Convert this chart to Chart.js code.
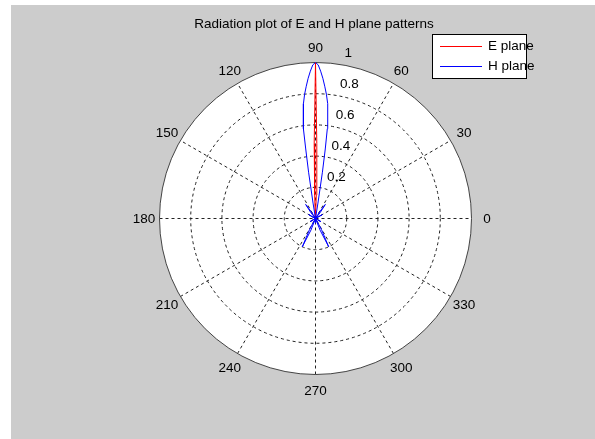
<!DOCTYPE html>
<html lang="en">
<head>
    <meta charset="UTF-8">
    <title>Radiation plot of E and H plane patterns</title>
    <script src="https://cdn.jsdelivr.net/npm/chart.js"></script>
    <style>
        /* white page, the gray figure area is painted by the plugin */
        body { margin: 0; background: #fff; }
        canvas { display: block; }
    </style>
</head>
<body>
    <canvas id="polarChart" width="595" height="439"></canvas>
    <script>
        // angles in degrees, values are normalised field strength
        var eAngles = [0, 85, 86, 87, 88, 89, 90, 91, 92, 93, 94, 95, 360];
        var eValues = [0, 0, 0.02, 0.05, 0.15, 0.48, 1, 0.48, 0.15, 0.05, 0.02, 0, 0];

        var hAngles = [0, 20, 26, 30, 34, 40, 50, 52, 55, 58, 61, 75,
                       80.5, 81, 81.5, 82, 82.5, 83, 84, 85, 86, 87, 88, 89, 90,
                       91, 92, 93, 94, 95, 96, 97, 97.5, 98, 98.5, 99, 99.5,
                       105, 119, 122, 125, 128, 130, 146, 150, 154, 160,
                       205, 210, 215, 240, 241.5, 245, 248.5, 250, 266, 270, 274,
                       290, 291.5, 295, 298.5, 300, 325, 330, 335, 360];
        var hValues = [0, 0, 0.02, 0.05, 0.02, 0, 0, 0.05, 0.11, 0.05, 0, 0,
                       0, 0.1, 0.3, 0.45, 0.58, 0.65, 0.74, 0.8, 0.85, 0.9, 0.945, 0.985, 1,
                       0.985, 0.945, 0.9, 0.85, 0.8, 0.74, 0.65, 0.58, 0.45, 0.3, 0.1, 0,
                       0, 0, 0.05, 0.11, 0.05, 0, 0, 0.05, 0.02, 0,
                       0, 0.04, 0, 0, 0.08, 0.2, 0.08, 0, 0, 0.03, 0,
                       0, 0.08, 0.2, 0.08, 0, 0, 0.04, 0, 0];

        var rTicks = [0.2, 0.4, 0.6, 0.8, 1];
        var angleTicks = [0, 30, 60, 90, 120, 150, 180, 210, 240, 270, 300, 330];
        var seriesNames = ['E plane', 'H plane'];
        var seriesColors = ['#ff0000', '#0000ff'];

        // polar (deg, r) -> cartesian data point
        function toXY(angles, values) {
            return angles.map(function (a, i) {
                var t = a * Math.PI / 180;
                return { x: values[i] * Math.cos(t), y: values[i] * Math.sin(t) };
            });
        }

        var font = '13.5px "Liberation Sans", Arial, sans-serif';

        // background, polar grid, labels, title and legend (MATLAB look)
        var polarFrame = {
            id: 'polarFrame',
            beforeDatasetsDraw: function (chart) {
                var ctx = chart.ctx;
                var sx = chart.scales.x, sy = chart.scales.y;
                var cx = sx.getPixelForValue(0), cy = sy.getPixelForValue(0);
                var R = sx.getPixelForValue(1) - cx;
                ctx.save();
                ctx.fillStyle = '#ffffff';
                ctx.fillRect(0, 0, chart.width, chart.height);
                ctx.fillStyle = '#cccccc';
                ctx.fillRect(11, 5, chart.width - 11, chart.height - 5);

                // white disc
                ctx.fillStyle = '#ffffff';
                ctx.beginPath();
                ctx.arc(cx, cy, R, 0, 2 * Math.PI);
                ctx.fill();

                // dashed rings and spokes
                ctx.strokeStyle = '#222222';
                ctx.lineWidth = 1;
                ctx.setLineDash([3, 3]);
                rTicks.forEach(function (r) {
                    if (r >= 1) return;
                    ctx.beginPath();
                    ctx.arc(cx, cy, r * R, 0, 2 * Math.PI);
                    ctx.stroke();
                });
                for (var a = 0; a < 180; a += 30) {
                    var t = a * Math.PI / 180;
                    ctx.beginPath();
                    ctx.moveTo(sx.getPixelForValue(-Math.cos(t)), sy.getPixelForValue(-Math.sin(t)));
                    ctx.lineTo(sx.getPixelForValue(Math.cos(t)), sy.getPixelForValue(Math.sin(t)));
                    ctx.stroke();
                }
                ctx.setLineDash([]);
                ctx.strokeStyle = '#444444';
                ctx.beginPath();
                ctx.arc(cx, cy, R, 0, 2 * Math.PI);
                ctx.stroke();

                // angle labels
                ctx.fillStyle = '#000000';
                ctx.font = font;
                ctx.textAlign = 'center';
                ctx.textBaseline = 'middle';
                angleTicks.forEach(function (a) {
                    var t = a * Math.PI / 180;
                    ctx.fillText(String(a), sx.getPixelForValue(1.1 * Math.cos(t)),
                        sy.getPixelForValue(1.1 * Math.sin(t)) + 1);
                });

                // radius labels along 82 deg
                ctx.textAlign = 'left';
                ctx.textBaseline = 'bottom';
                var t82 = 82 * Math.PI / 180;
                rTicks.forEach(function (r) {
                    var rr = r + 0.01;
                    ctx.fillText(String(r), sx.getPixelForValue(rr * Math.cos(t82)) + 7,
                        sy.getPixelForValue(rr * Math.sin(t82)) - 2);
                });
                ctx.restore();
            },
            afterDatasetsDraw: function (chart) {
                var ctx = chart.ctx;
                ctx.save();
                ctx.font = font;
                ctx.fillStyle = '#000000';
                ctx.textAlign = 'center';
                ctx.textBaseline = 'alphabetic';
                ctx.fillText('Radiation plot of E and H plane patterns', 314, 28);

                // legend box
                ctx.fillStyle = '#ffffff';
                ctx.fillRect(432.5, 34.5, 94, 44);
                ctx.strokeStyle = '#000000';
                ctx.lineWidth = 1;
                ctx.strokeRect(432.5, 34.5, 94, 44);
                ctx.textAlign = 'left';
                ctx.textBaseline = 'middle';
                seriesNames.forEach(function (name, i) {
                    var y = 46.5 + i * 20;
                    ctx.strokeStyle = seriesColors[i];
                    ctx.beginPath();
                    ctx.moveTo(440, y);
                    ctx.lineTo(482, y);
                    ctx.stroke();
                    ctx.fillStyle = '#000000';
                    ctx.fillText(name, 488, y);
                });
                ctx.restore();
            }
        };

        new Chart(document.getElementById('polarChart'), {
            type: 'scatter',
            data: {
                datasets: [{
                    label: seriesNames[0],
                    data: toXY(eAngles, eValues),
                    borderColor: seriesColors[0],
                    borderWidth: 1,
                    showLine: true,
                    pointRadius: 0,
                    order: 1
                }, {
                    label: seriesNames[1],
                    data: toXY(hAngles, hValues),
                    borderColor: seriesColors[1],
                    borderWidth: 1,
                    showLine: true,
                    pointRadius: 0,
                    order: 0
                }]
            },
            options: {
                responsive: false,
                animation: false,
                // half-pixel offsets keep the vertical/horizontal lines crisp
                layout: { padding: { left: 159.5, right: 123.5, top: 62.5, bottom: 64.5 } },
                scales: {
                    x: { type: 'linear', min: -1, max: 1, display: false },
                    y: { type: 'linear', min: -1, max: 1, display: false }
                },
                plugins: {
                    legend: { display: false },
                    title: { display: false },
                    tooltip: { enabled: false }
                }
            },
            plugins: [polarFrame]
        });
    </script>
</body>
</html>
